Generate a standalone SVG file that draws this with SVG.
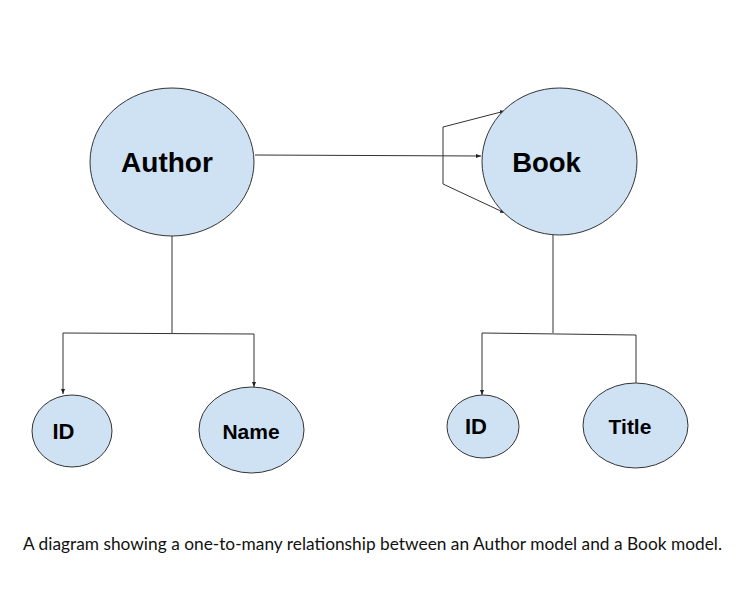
<svg xmlns="http://www.w3.org/2000/svg" width="755" height="594" viewBox="0 0 755 594">
<style>
.node{fill:#cfe2f3;stroke:#333;stroke-width:1}
.lbl{font-family:"Liberation Sans",Arial,sans-serif;font-weight:bold;fill:#000;text-anchor:middle}
.c{fill:none;stroke:#333;stroke-width:1}
.cap{font-family:Lato,"Liberation Sans",sans-serif;font-size:17.3px;fill:#111}
</style>
<defs>
<marker id="ah" viewBox="0 0 10 10" refX="10" refY="5" markerWidth="5" markerHeight="5" orient="auto" markerUnits="userSpaceOnUse">
<path d="M0,1 L10,5 L0,9 z" fill="#222"/>
</marker>
</defs>
<rect width="755" height="594" fill="#fff"/>
<g id="connectors">
<line class="c" x1="255" y1="155" x2="481" y2="156" marker-end="url(#ah)"/>
<line class="c" x1="443" y1="127" x2="443" y2="184"/>
<line class="c" x1="443" y1="127" x2="505" y2="111" marker-end="url(#ah)"/>
<line class="c" x1="443" y1="184" x2="505" y2="213" marker-end="url(#ah)"/>
<polyline class="c" points="172,236 172,333"/>
<polyline class="c" points="63,333 254,334"/>
<line class="c" x1="63" y1="333" x2="63" y2="394" marker-end="url(#ah)"/>
<line class="c" x1="254" y1="334" x2="254" y2="387" marker-end="url(#ah)"/>
<polyline class="c" points="553,235 553,333"/>
<polyline class="c" points="482,333 636,335"/>
<line class="c" x1="482" y1="333" x2="482" y2="395" marker-end="url(#ah)"/>
<line class="c" x1="636" y1="335" x2="636" y2="383"/>
</g>
<g id="author">
<ellipse class="node" cx="172" cy="162" rx="82" ry="74"/>
<text class="lbl" x="167" y="172" font-size="28">Author</text>
</g>
<g id="book">
<ellipse class="node" cx="559.5" cy="161.5" rx="77.5" ry="73.5"/>
<text class="lbl" x="546.5" y="172" font-size="27.5">Book</text>
</g>
<g id="author-id">
<ellipse class="node" cx="72" cy="431" rx="40" ry="36"/>
<text class="lbl" x="63.5" y="439" font-size="22">ID</text>
</g>
<g id="author-name">
<ellipse class="node" cx="251.5" cy="430" rx="52.5" ry="43"/>
<text class="lbl" x="251" y="439" font-size="21">Name</text>
</g>
<g id="book-id">
<ellipse class="node" cx="483" cy="426.5" rx="36" ry="31.5"/>
<text class="lbl" x="476" y="434" font-size="22">ID</text>
</g>
<g id="book-title">
<ellipse class="node" cx="635.5" cy="425.5" rx="52.5" ry="42.5"/>
<text class="lbl" x="630" y="434" font-size="21">Title</text>
</g>
<text class="cap" x="23" y="550" textLength="699" lengthAdjust="spacing">A diagram showing a one-to-many relationship between an Author model and a Book model.</text>
</svg>
